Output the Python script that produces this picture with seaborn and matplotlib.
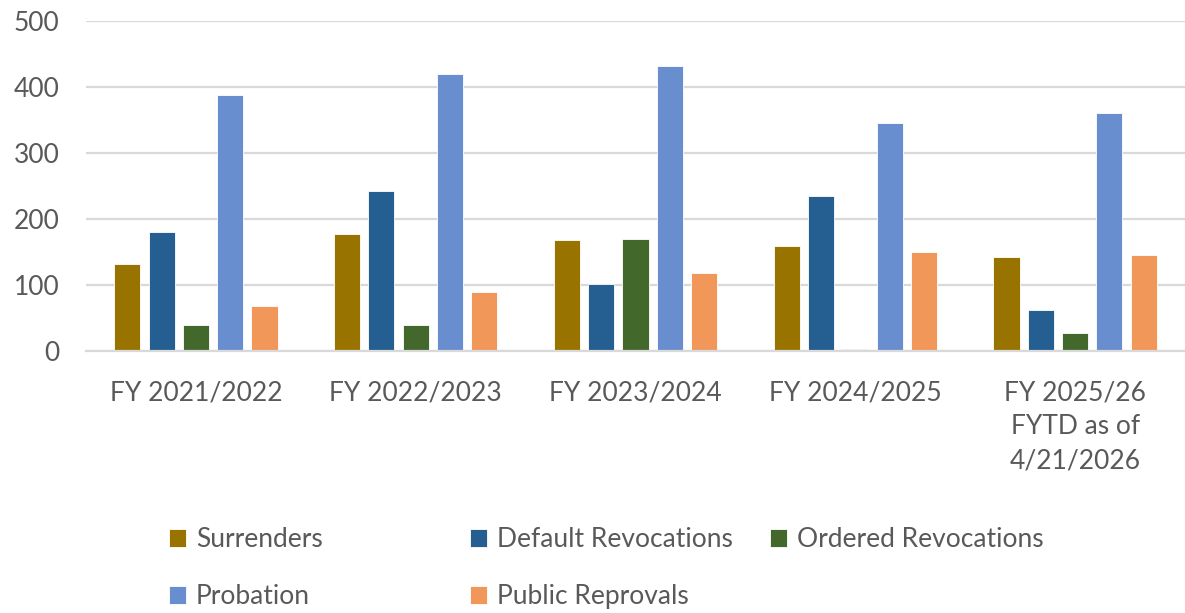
import pandas as pd
import seaborn as sns
import matplotlib.pyplot as plt

# data
years = ["FY 2021/2022", "FY 2022/2023", "FY 2023/2024", "FY 2024/2025",
         "FY 2025/26\nFYTD as of\n4/21/2026"]
surrenders = [132, 177, 168, 160, 142]
default_revocations = [180, 243, 102, 235, 62]
ordered_revocations = [39, 39, 170, 3, 28]
probation = [389, 420, 432, 346, 361]
public_reprovals = [69, 89, 119, 150, 145]

series = ["Surrenders", "Default Revocations", "Ordered Revocations",
          "Probation", "Public Reprovals"]
colors = ["#997300", "#255E91", "#43682B", "#698ED0", "#F1975A"]

df = pd.DataFrame({
    "Year": years,
    "Surrenders": surrenders,
    "Default Revocations": default_revocations,
    "Ordered Revocations": ordered_revocations,
    "Probation": probation,
    "Public Reprovals": public_reprovals,
})
df_long = df.melt(id_vars="Year", var_name="Type", value_name="Count")

sns.set_style("white")
plt.rcParams["font.family"] = ["Lato", "DejaVu Sans"]

fig = plt.figure(figsize=(11.85, 6.13), dpi=100)
ax = fig.add_axes([0.0726, 0.4274, 0.9274, 0.5376])

sns.barplot(data=df_long, x="Year", y="Count", hue="Type", hue_order=series,
            palette=colors, width=0.78, gap=0.24, edgecolor="white",
            linewidth=0.6, saturation=1, ax=ax, legend=True)

ax.set_ylim(0, 500)
ax.set_xlim(-0.5, 4.5)
ax.set_yticks(range(0, 501, 100))
ax.yaxis.grid(True, color="#d9d9d9", linewidth=1.6)
ax.set_axisbelow(True)
for s in ["top", "right", "left"]:
    ax.spines[s].set_visible(False)
ax.spines["bottom"].set_color("#d9d9d9")
ax.spines["bottom"].set_linewidth(1.6)
ax.tick_params(axis="y", length=0, pad=19, labelsize=19, labelcolor="#595959")
ax.tick_params(axis="x", length=0, pad=21, labelsize=19, labelcolor="#595959")
for lbl in ax.get_xticklabels():
    lbl.set_linespacing(1.45)
ax.set_xlabel("")
ax.set_ylabel("")

# legend: three fixed-width columns like the original
handles, labels = ax.get_legend_handles_labels()
ax.get_legend().remove()
columns = [([0, 3], 169), ([1, 4], 470), ([2], 770)]
for idx, xpix in columns:
    fig.legend([handles[i] for i in idx], [labels[i] for i in idx],
               loc="upper left", bbox_to_anchor=(xpix / 1185, 0.140),
               frameon=False, fontsize=19, labelcolor="#595959",
               handlelength=0.64, handleheight=0.64, handletextpad=0.38,
               labelspacing=1.22, borderpad=0, borderaxespad=0)

fig.savefig("out.png", dpi=100)
